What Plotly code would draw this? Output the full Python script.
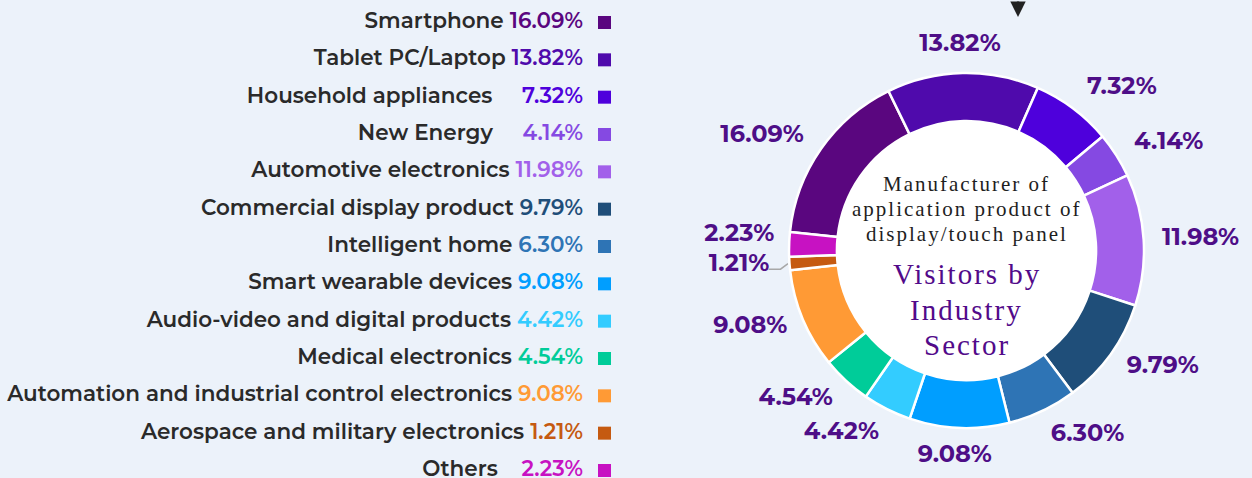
import math
import plotly.graph_objects as go

categories = ["Smartphone", "Tablet PC/Laptop", "Household appliances", "New Energy",
              "Automotive electronics", "Commercial display product", "Intelligent home",
              "Smart wearable devices", "Audio-video and digital products", "Medical electronics",
              "Automation and industrial control electronics", "Aerospace and military electronics",
              "Others"]
shares = [16.09, 13.82, 7.32, 4.14, 11.98, 9.79, 6.30, 9.08, 4.42, 4.54, 9.08, 1.21, 2.23]
colors = ["#5A067F", "#4F0AAC", "#4E00DC", "#8549E2", "#A260EA", "#1F4E79", "#2E74B5",
          "#009EFF", "#33CCFF", "#00CC99", "#FF9A35", "#C55A11", "#C712C2"]
legend_pad = [0, 0, 4, 4, 0, 0, 0, 0, 0, 0, 0, 0, 3]
center_small = ["Manufacturer of", "application product of", "display/touch panel"]
center_big = ["Visitors by", "Industry", "Sector"]

W, H = 1252, 478
BG = "#ECF2FA"
LABEL_COLOR = "#4E0E87"
ROTATION = -84

def px_x(v):
    return v / W

def px_y(v):
    return (H - v) / H

# donut geometry (pixels)
cx, cy, R = 966.5, 250.5, 177.5
hole = 0.73

fig = go.Figure()

fig.add_trace(go.Pie(
    values=shares, labels=categories, sort=False, direction="clockwise", rotation=ROTATION,
    hole=hole,
    marker=dict(colors=colors, line=dict(color="white", width=2.5)),
    domain=dict(x=[px_x(cx - R), px_x(cx + R)], y=[px_y(cy + R), px_y(cy - R)]),
    textinfo="none", showlegend=False,
    hovertemplate="%{label}: %{value:.2f}%<extra></extra>",
))

# outside percentage labels: placed on a pixel-scaled cartesian layer centred on the donut
total = sum(shares)
mid_angles, cum = [], 0.0
for v in shares:
    mid_angles.append((cum + v / 2) / total * 360 + ROTATION)
    cum += v
label_text = [f"{v:.2f}%" for v in shares]
lab_x, lab_y = [], []
for t, a in zip(label_text, mid_angles):
    s, c = math.sin(math.radians(a)), math.cos(math.radians(a))
    hw = 6.7 * len(t)
    r = R + 16 + 12 * abs(c)
    lab_x.append(r * s + math.copysign(hw * min(1.0, 2.5 * abs(s)), s))
    lab_y.append(r * c)

# simple overlap avoidance: on each side, push a label up if it sits too close above the next one
MIN_GAP = 30
for side in (1, -1):
    idx = [i for i in range(len(lab_x)) if math.copysign(1, lab_x[i]) == side and abs(lab_x[i]) > 60]
    idx.sort(key=lambda i: lab_y[i])  # bottom to top
    for a_i, b_i in zip(idx, idx[1:]):
        if lab_y[b_i] - lab_y[a_i] < MIN_GAP:
            lab_y[b_i] = lab_y[a_i] + MIN_GAP

fig.add_trace(go.Scatter(
    x=lab_x, y=lab_y, mode="text", text=label_text, textposition="middle center",
    textfont=dict(family="Montserrat, Open Sans, sans-serif", size=24, color=LABEL_COLOR, weight=700),
    xaxis="x2", yaxis="y2", cliponaxis=False, showlegend=False, hoverinfo="skip",
))
# leader line for the thin "Aerospace" slice
k = 11
sk, ck = math.sin(math.radians(mid_angles[k])), math.cos(math.radians(mid_angles[k]))
fig.add_trace(go.Scatter(
    x=[(R + 1.5) * sk, (R + 9) * sk, (R + 21) * sk],
    y=[(R + 1.5) * ck, (R + 9) * ck - 5, (R + 9) * ck - 5], mode="lines",
    line=dict(color="#A8A8A8", width=1.5), xaxis="x2", yaxis="y2",
    cliponaxis=False, showlegend=False, hoverinfo="skip",
))

# legend built as a scatter (text right-aligned, square on the right)
rows = list(range(len(categories)))
leg_text = [
    f"{name}{chr(160) * pad} <span style='color:{c}'>{v:.2f}%</span>"
    for name, v, c, pad in zip(categories, shares, colors, legend_pad)
]
fig.add_trace(go.Scatter(
    x=[583] * len(rows), y=rows, mode="text", text=leg_text, textposition="middle left",
    textfont=dict(family="Montserrat, Open Sans, sans-serif", size=21.5, color="#2A2A2A", weight=600),
    xaxis="x", yaxis="y", showlegend=False, hoverinfo="skip",
))
fig.add_trace(go.Scatter(
    x=[604.5] * len(rows), y=rows, mode="markers",
    marker=dict(symbol="square", size=13, color=colors, line=dict(width=0)),
    xaxis="x", yaxis="y", showlegend=False, hoverinfo="skip",
))

# white disc inside the hole
r_in = R * hole
shapes = [dict(type="circle", xref="paper", yref="paper", layer="below",
               x0=px_x(cx - r_in), x1=px_x(cx + r_in), y0=px_y(cy + r_in), y1=px_y(cy - r_in),
               fillcolor="white", line=dict(width=0))]

annotations = []
for line, yc in zip(center_small, [184, 209, 234]):
    annotations.append(dict(
        x=px_x(cx), y=px_y(yc), xref="paper", yref="paper", showarrow=False,
        xanchor="center", yanchor="middle",
        text=f"<span style='letter-spacing:2px'>{line}</span>",
        font=dict(family="Liberation Serif, Times New Roman, serif", size=21, color="#1E1E1E")))
for line, yc in zip(center_big, [274, 310, 345]):
    annotations.append(dict(
        x=px_x(cx), y=px_y(yc), xref="paper", yref="paper", showarrow=False,
        xanchor="center", yanchor="middle",
        text=f"<span style='letter-spacing:2px'>{line}</span>",
        font=dict(family="Liberation Serif, Times New Roman, serif", size=29, color="#520A8A")))
annotations.append(dict(
    x=px_x(1018), y=px_y(17), xref="paper", yref="paper", ax=0, ay=-30,
    showarrow=True, arrowhead=2, arrowsize=1.4, arrowwidth=2.2, arrowcolor="#222222", text=""))

fig.update_layout(
    width=W, height=H,
    margin=dict(l=0, r=0, t=0, b=0),
    paper_bgcolor=BG, plot_bgcolor="rgba(0,0,0,0)",
    xaxis=dict(domain=[0, 0.5], range=[0, 626], visible=False, fixedrange=True),
    yaxis=dict(domain=[0, 1], range=[12.201, -0.603], visible=False, fixedrange=True),
    xaxis2=dict(domain=[0.5, 1], range=[626 - cx, W - cx], visible=False, fixedrange=True),
    yaxis2=dict(domain=[0, 1], range=[cy - H, cy], visible=False, fixedrange=True),
    shapes=shapes, annotations=annotations,
)

fig.write_html("out.html", config={"displayModeBar": False},
               post_script="document.body.style.margin='0px';")
